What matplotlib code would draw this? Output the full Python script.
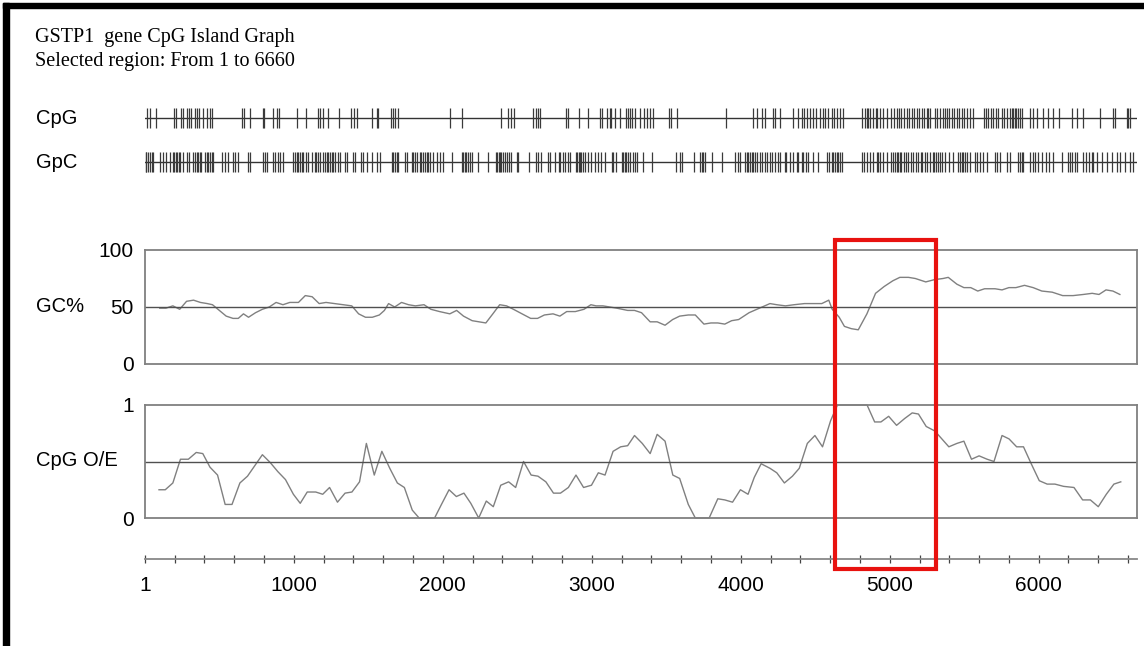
import matplotlib.pyplot as plt
import matplotlib.patches as patches
import matplotlib.transforms as transforms

# figure size in pixels
W, H = 1144, 646
X_MIN, X_MAX = 1, 6660

title_lines = ['GSTP1  gene CpG Island Graph', 'Selected region: From 1 to 6660']

# positions of CpG / GpC dinucleotides (bp)
cpg_sites = [16, 34, 78, 197, 208, 246, 257, 280, 298, 313, 336, 347, 365, 392, 414, 436, 454,
             649, 665, 705, 790, 799, 862, 884, 902, 1018, 1085, 1164, 1175, 1193, 1231, 1305,
             1387, 1405, 1421, 1522, 1555, 1566, 1649, 1663, 1678, 1701, 2047, 2126,
             2388, 2439, 2455, 2477, 2607, 2623, 2636, 2652, 2826, 2842, 2916, 2976, 3054, 3072,
             3099, 3122, 3128, 3155, 3189, 3233, 3245, 3256, 3271, 3289, 3323, 3350, 3368, 3390,
             3412, 3520, 3529, 3574, 3900, 4079, 4111, 4140, 4162, 4218, 4229, 4263, 4348, 4386,
             4408, 4424, 4442, 4464, 4487, 4504, 4531, 4549, 4565, 4587, 4610, 4625, 4648, 4666,
             4688, 4811, 4833, 4845, 4856, 4871, 4889, 4907, 4916, 4934, 4952, 4983, 5012, 5028,
             5046, 5064, 5079, 5095, 5113, 5131, 5147, 5162, 5180, 5198, 5214, 5229, 5247, 5259,
             5270, 5303, 5319, 5337, 5355, 5370, 5382, 5399, 5415, 5431, 5449, 5467, 5482, 5498,
             5516, 5538, 5561, 5632, 5646, 5661, 5677, 5695, 5713, 5728, 5751, 5766, 5784, 5807,
             5818, 5829, 5840, 5851, 5863, 5874, 5885, 5941, 5963, 5990, 6026, 6064, 6098, 6138,
             6221, 6254, 6295, 6411, 6496, 6512, 6590, 6601, 6612]

gpc_sites = [5, 11, 22, 34, 45, 56, 101, 119, 145, 168, 190, 197, 208, 217, 230, 239, 253, 280,
             298, 325, 336, 347, 358, 369, 380, 403, 414, 425, 436, 448, 459, 515, 537, 559, 593,
             604, 627, 694, 705, 794, 806, 817, 862, 873, 895, 906, 929, 996, 1007, 1018, 1029,
             1041, 1052, 1063, 1085, 1096, 1119, 1141, 1152, 1164, 1175, 1197, 1208, 1220, 1231,
             1242, 1253, 1264, 1275, 1298, 1309, 1343, 1354, 1399, 1410, 1454, 1466, 1488, 1522,
             1555, 1578, 1656, 1667, 1678, 1690, 1701, 1745, 1757, 1790, 1801, 1812, 1824, 1846,
             1857, 1868, 1880, 1891, 1902, 1913, 1936, 1958, 1980, 2003, 2059, 2126, 2137, 2148,
             2159, 2170, 2182,
             2193, 2238, 2305, 2356, 2365, 2374, 2383, 2394, 2405, 2417, 2432, 2446, 2455, 2495,
             2506, 2580, 2629, 2640, 2656, 2708, 2719, 2752, 2781, 2790, 2804, 2819, 2842, 2853,
             2893, 2902, 2911, 2920, 2931, 2942, 2954, 2976, 2992, 3021, 3043, 3059, 3088, 3133,
             3144, 3166, 3200, 3211, 3222, 3233, 3245, 3256, 3278, 3289, 3301, 3345, 3401, 3565,
             3591, 3609, 3686, 3726, 3737, 3748, 3759, 3809, 3871, 3961, 3983, 3994, 4028, 4039,
             4050, 4061, 4073, 4084, 4095, 4111, 4128, 4140, 4162, 4178, 4196, 4207, 4229, 4252,
             4263, 4296, 4307, 4334, 4352, 4375, 4386, 4408,
             4419, 4437, 4453, 4487, 4520, 4576, 4594, 4610, 4621, 4632, 4643, 4654, 4666, 4677,
             4811, 4827, 4845, 4867, 4885, 4912, 4923, 4934, 4952, 4983, 5012, 5024, 5035, 5046,
             5057, 5068, 5079, 5095, 5109, 5124, 5140, 5158, 5176, 5191, 5207, 5220, 5236, 5252,
             5270, 5288, 5297, 5310, 5326, 5337, 5348, 5370, 5399, 5426, 5460, 5471, 5482, 5493,
             5505, 5516, 5538, 5572, 5583, 5605, 5628, 5650, 5706, 5717, 5740, 5784, 5807, 5863,
             5874, 5885, 5896, 5941, 5963, 5975, 5997, 6019, 6048, 6071, 6093, 6154, 6198, 6210,
             6221, 6243, 6254, 6299, 6321, 6339, 6355, 6366, 6389, 6422, 6456, 6489, 6523, 6545,
             6579, 6612, 6635]

# sliding window GC content
gc_pos = [100, 142, 188, 234, 280, 327, 373, 419, 454, 500,
          546, 592, 627, 662, 696, 743, 789, 835, 881, 927,
          973, 1031, 1077, 1123, 1170, 1216, 1273, 1331, 1389, 1435,
          1481, 1527, 1574, 1608, 1636, 1677, 1723, 1770, 1816, 1874,
          1920, 1978, 2047, 2093, 2139, 2197, 2243, 2289, 2336, 2382,
          2428, 2474, 2532, 2590, 2636, 2682, 2740, 2786, 2832, 2890,
          2948, 2994, 3029, 3075, 3121, 3167, 3241, 3287, 3334, 3392,
          3439, 3492, 3543, 3590, 3648, 3695, 3753, 3800, 3846, 3893,
          3939, 3986, 4056, 4126, 4196, 4242, 4300, 4358, 4428, 4486,
          4544, 4591, 4614, 4661, 4696, 4742, 4789, 4847, 4905, 4963,
          5021, 5068, 5126, 5172, 5242, 5300, 5358, 5393, 5451, 5498,
          5544, 5591, 5637, 5707, 5754, 5800, 5847, 5905, 5963, 6021,
          6091, 6161, 6231, 6300, 6359, 6405, 6452, 6498, 6545]
gc_pct = [49, 49, 51, 48, 55, 56, 54, 53, 52, 47,
          42, 40, 40, 44, 41, 45, 48, 50, 54, 52,
          54, 54, 60, 59, 53, 54, 53, 52, 51, 44,
          41, 41, 43, 47, 53, 50, 54, 52, 51, 52,
          48, 46, 44, 47, 42, 38, 37, 36, 44, 52,
          51, 48, 44, 40, 40, 43, 44, 42, 46, 46,
          48, 52, 51, 51, 50, 49, 47, 47, 45, 37,
          37, 34, 39, 42, 43, 43, 35, 36, 36, 35,
          38, 39, 45, 49, 53, 52, 51, 52, 53, 53,
          53, 56, 48, 41, 33, 31, 30, 44, 62, 68,
          73, 76, 76, 75, 72, 74, 75, 76, 70, 67,
          67, 64, 66, 66, 65, 67, 67, 69, 67, 64,
          63, 60, 60, 61, 62, 61, 65, 64, 61]

# sliding window CpG observed/expected
oe_pos = [95, 137, 188, 239, 292, 345, 389, 437, 488, 539,
          585, 638, 689, 742, 789, 842, 893, 944, 997, 1043,
          1090, 1147, 1194, 1240, 1293, 1344, 1390, 1441, 1487, 1540,
          1591, 1644, 1695, 1742, 1795, 1841, 1899, 1945, 1991, 2042,
          2091, 2142, 2188, 2241, 2292, 2339, 2389, 2442, 2489, 2542,
          2593, 2639, 2692, 2743, 2790, 2843, 2894, 2945, 2998, 3044,
          3089, 3143, 3194, 3241, 3287, 3339, 3392, 3439, 3492, 3544,
          3590, 3648, 3695, 3742, 3788, 3846, 3893, 3945, 3998, 4049,
          4091, 4137, 4196, 4242, 4293, 4347, 4393, 4447, 4498, 4549,
          4603, 4649, 4684, 4740, 4795, 4848, 4899, 4941, 4993, 5046,
          5100, 5151, 5193, 5245, 5303, 5350, 5397, 5451, 5498, 5549,
          5600, 5654, 5700, 5754, 5801, 5852, 5898, 5950, 6004, 6057,
          6109, 6167, 6237, 6295, 6347, 6400, 6454, 6505, 6551]
oe_ratio = [.25, .25, .31, .52, .52, .58, .57, .45, .38, .12,
            .12, .31, .37, .47, .56, .49, .41, .34, .21, .13,
            .23, .23, .21, .27, .14, .22, .23, .32, .66, .38,
            .59, .44, .31, .27, .07, 0, 0, 0, .12, .25,
            .19, .22, .13, 0, .15, .10, .29, .32, .27, .50,
            .38, .37, .32, .22, .22, .27, .38, .27, .29, .40,
            .38, .59, .63, .64, .73, .66, .57, .74, .68, .38,
            .35, .12, 0, 0, 0, .17, .16, .14, .25, .21,
            .36, .48, .44, .40, .31, .37, .44, .66, .73, .63,
            .86, 1, 1, 1, 1, 1, .85, .85, .90, .82,
            .88, .93, .92, .81, .77, .70, .63, .66, .68, .52,
            .55, .52, .50, .73, .70, .63, .63, .48, .33, .30,
            .30, .28, .27, .16, .16, .10, .21, .30, .32]

x_label_pos = [1, 1000, 2000, 3000, 4000, 5000, 6000]
x_labels = ['1', '1000', '2000', '3000', '4000', '5000', '6000']
x_minor = [v for v in range(200, 6601, 200) if v % 1000 != 0]

island_start, island_end = 4630, 5310

plt.rcParams['font.family'] = ['Liberation Sans', 'DejaVu Sans']

fig = plt.figure(figsize=(W / 100, H / 100), dpi=100)

def px_axes(top, bottom, left=145, right=1137):
    # place axes using pixel box of the reference
    return fig.add_axes([left / W, 1 - bottom / H, (right - left) / W, (bottom - top) / H])

# title
fig.text(35 / W, 1 - 42 / H, title_lines[0], family='Liberation Serif', fontsize=14.5, va='baseline')
fig.text(35 / W, 1 - 66 / H, title_lines[1], family='Liberation Serif', fontsize=14.5, va='baseline')

# dinucleotide tracks
for name, sites, yc in [('CpG', cpg_sites, 118), ('GpC', gpc_sites, 162)]:
    ax = px_axes(yc - 13, yc + 13)
    ax.set_xlim(X_MIN, X_MAX)
    ax.set_ylim(-1, 1)
    ax.axhline(0, color='#333333', lw=1)
    ax.vlines(sites, -0.77, 0.77, color='#3a3a3a', lw=0.9)
    ax.axis('off')
    fig.text(36 / W, 1 - (yc + 1) / H, name, fontsize=14.5, va='center')

# GC% panel
axgc = px_axes(250, 364)
axgc.plot(gc_pos, gc_pct, color='#808080', lw=1)
axgc.axhline(50, color='#505050', lw=1)
axgc.set_xlim(X_MIN, X_MAX)
axgc.set_ylim(0, 100)
axgc.set_yticks([0, 50, 100])
axgc.set_xticks([])
fig.text(36 / W, 1 - 307 / H, 'GC%', fontsize=14.5, va='center')

# CpG O/E panel
axoe = px_axes(405, 518)
axoe.plot(oe_pos, oe_ratio, color='#808080', lw=1, clip_on=False)
axoe.axhline(0.5, color='#505050', lw=1)
axoe.set_xlim(X_MIN, X_MAX)
axoe.set_ylim(0, 1)
axoe.set_yticks([0, 1])
axoe.set_yticklabels(['0', '1'])
axoe.set_xticks([])
fig.text(36 / W, 1 - 461 / H, 'CpG O/E', fontsize=14.5, va='center')

for ax in (axgc, axoe):
    for s in ax.spines.values():
        s.set_color('#808080')
        s.set_linewidth(1.3)
    ax.tick_params(axis='y', length=0, pad=8, labelsize=15)

# position axis
axx = px_axes(558, 559)
axx.set_xlim(X_MIN, X_MAX)
for k in ('top', 'left', 'right'):
    axx.spines[k].set_visible(False)
axx.spines['bottom'].set_color('#888888')
axx.spines['bottom'].set_linewidth(1.3)
axx.set_yticks([])
axx.set_xticks(x_label_pos)
axx.set_xticklabels(x_labels)
axx.set_xticks(x_minor, minor=True)
axx.tick_params(axis='x', which='both', direction='inout', length=6, width=0.9, color='#444444')
axx.tick_params(axis='x', which='major', labelsize=15, pad=9)

# red highlight around the island
tr = transforms.blended_transform_factory(axgc.transData, fig.transFigure)
fig.add_artist(patches.Rectangle((island_start, 1 - 569 / H), island_end - island_start, (569 - 240) / H,
                                 transform=tr, fill=False, ec='#e8120f', lw=3))

# black frame at top and left
fig.add_artist(patches.Rectangle((3 / W, 0), 6 / W, 1 - 3 / H, transform=fig.transFigure, color='black'))
fig.add_artist(patches.Rectangle((3 / W, 1 - 8 / H), 1 - 3 / W, 5 / H, transform=fig.transFigure, color='black'))

plt.savefig('out.png', dpi=100)
